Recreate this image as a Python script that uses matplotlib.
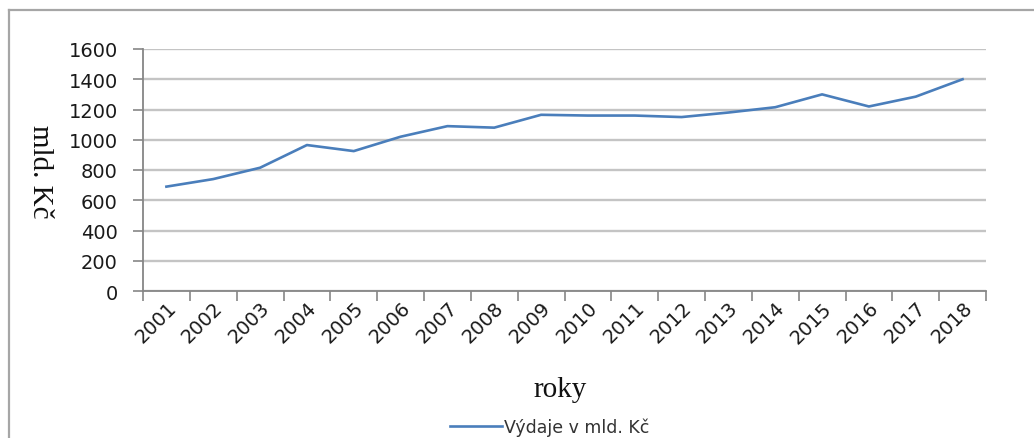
import matplotlib.pyplot as plt
from matplotlib.lines import Line2D

years = ["2001", "2002", "2003", "2004", "2005", "2006", "2007", "2008", "2009",
         "2010", "2011", "2012", "2013", "2014", "2015", "2016", "2017", "2018"]
vydaje = [690, 740, 815, 965, 925, 1020, 1090, 1080, 1165,
          1160, 1160, 1150, 1180, 1215, 1300, 1220, 1285, 1400]
y_ticks = [0, 200, 400, 600, 800, 1000, 1200, 1400, 1600]

W, H = 1034, 439
fig = plt.figure(figsize=(W / 100, H / 100), dpi=100)
fig.patch.set_facecolor("white")

# outer chart frame (right and bottom edges run off the canvas)
frame_col = "#a6a6a6"
fig.add_artist(Line2D([8.5 / W, 1.0], [1 - 11 / H, 1 - 11 / H], color=frame_col, lw=1.6,
                      transform=fig.transFigure))
fig.add_artist(Line2D([8.5 / W, 8.5 / W], [0.0, 1 - 11 / H], color=frame_col, lw=1.6,
                      transform=fig.transFigure))

ax = fig.add_axes([143 / W, 1 - 292 / H, (986 - 143) / W, (292 - 50) / H])
x = list(range(len(years)))
ax.plot(x, vydaje, color="#4a7ebb", lw=1.9, label="Výdaje v mld. Kč", zorder=3)

ax.set_xlim(-0.5, len(years) - 0.5)
ax.set_ylim(0, 1600)

ax.set_yticks(y_ticks)
ax.set_yticklabels([str(v) for v in y_ticks])
ax.yaxis.grid(True, color="#c4c4c4", lw=1.7)
ax.set_axisbelow(True)

# category boundaries carry the tick marks, labels sit at category centres
ax.set_xticks([i - 0.5 for i in range(len(years) + 1)])
ax.set_xticklabels([])
ax.set_xticks(x, minor=True)
ax.set_xticklabels(years, minor=True, rotation=45, ha="right", va="top",
                   rotation_mode="anchor")

for s in ("top", "right"):
    ax.spines[s].set_visible(False)
for s in ("left", "bottom"):
    ax.spines[s].set_color("#868686")
    ax.spines[s].set_linewidth(1.3)

ax.tick_params(axis="both", which="major", length=7, width=1.2, color="#868686",
               direction="out")
ax.tick_params(axis="y", labelsize=14, labelcolor="#1a1a1a", pad=11)
ax.tick_params(axis="x", which="minor", length=0, labelsize=14, labelcolor="#1a1a1a",
               pad=5)
for lab in ax.get_yticklabels() + ax.get_xticklabels(minor=True):
    lab.set_fontfamily("DejaVu Sans")

fig.text(40 / W, 1 - 172 / H, "mld. Kč", rotation=270, ha="center", va="center",
         fontsize=21, family="Liberation Serif", color="#111111")
fig.text(560 / W, 1 - 390 / H, "roky", ha="center", va="center",
         fontsize=21, family="Liberation Serif", color="#111111")

leg = fig.legend(loc="center", bbox_to_anchor=(550 / W, 1 - 428 / H), frameon=False,
                 handlelength=3.0, handletextpad=0.1, borderpad=0.1,
                 prop={"family": ["Liberation Sans Narrow", "DejaVu Sans"], "size": 12.5})
for t in leg.get_texts():
    t.set_color("#333333")

fig.savefig("out.png", dpi=100, facecolor="white")
